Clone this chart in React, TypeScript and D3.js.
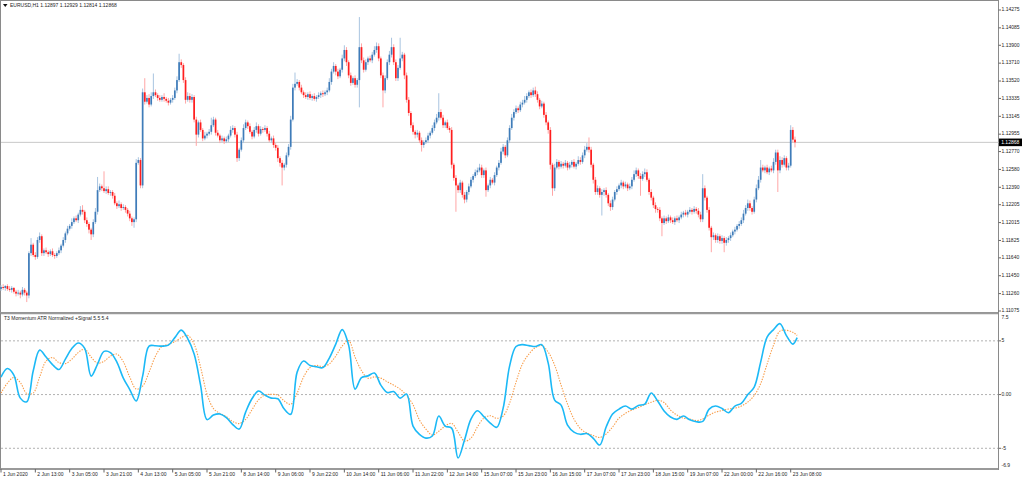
import * as d3 from 'd3';

// EURUSD H1 closes, 1 Jun 2020 onward (open of each bar = previous close)
const firstOpen = 1.1131;
const closes = [
  1.1133, 1.1132, 1.1134, 1.1131, 1.1130, 1.1132, 1.1128, 1.1126, 1.1127, 1.1125,
  1.1130, 1.1127, 1.1124, 1.1169, 1.1178, 1.1167, 1.1165, 1.1183, 1.1187, 1.1169,
  1.1172, 1.1170, 1.1168, 1.1171, 1.1167, 1.1166, 1.1169, 1.1172, 1.1177, 1.1183,
  1.1190, 1.1195, 1.1198, 1.1202, 1.1206, 1.1204, 1.1210, 1.1215, 1.1213, 1.1204,
  1.1200, 1.1194, 1.1189, 1.1202, 1.1213, 1.1236, 1.1240, 1.1238, 1.1235, 1.1237,
  1.1233, 1.1234, 1.1230, 1.1222, 1.1219, 1.1221, 1.1217, 1.1218, 1.1215, 1.1211,
  1.1206, 1.1202, 1.1205, 1.1265, 1.1268, 1.1241, 1.1340, 1.1330, 1.1334, 1.1327,
  1.1336, 1.1340, 1.1337, 1.1334, 1.1332, 1.1335, 1.1333, 1.1331, 1.1329, 1.1332,
  1.1334, 1.1342, 1.1353, 1.1372, 1.1369, 1.1353, 1.1332, 1.1336, 1.1332, 1.1335,
  1.1311, 1.1295, 1.1308, 1.1300, 1.1291, 1.1294, 1.1296, 1.1298, 1.1305, 1.1311,
  1.1297, 1.1294, 1.1289, 1.1291, 1.1288, 1.1290, 1.1294, 1.1300, 1.1302, 1.1295,
  1.1270, 1.1279, 1.1289, 1.1302, 1.1308, 1.1304, 1.1298, 1.1293, 1.1300, 1.1304,
  1.1296, 1.1301, 1.1300, 1.1302, 1.1296, 1.1289, 1.1291, 1.1284, 1.1281, 1.1270,
  1.1265, 1.1260, 1.1263, 1.1273, 1.1282, 1.1311, 1.1345, 1.1349, 1.1351, 1.1345,
  1.1340, 1.1337, 1.1335, 1.1338, 1.1334, 1.1336, 1.1333, 1.1335, 1.1337, 1.1339,
  1.1338, 1.1340, 1.1342, 1.1351, 1.1362, 1.1368, 1.1362, 1.1357, 1.1364, 1.1376,
  1.1385, 1.1372, 1.1358, 1.1350, 1.1355, 1.1348, 1.1353, 1.1388, 1.1374, 1.1364,
  1.1372, 1.1376, 1.1374, 1.1380, 1.1385, 1.1389, 1.1376, 1.1358, 1.1342, 1.1355,
  1.1372, 1.1380, 1.1388, 1.1372, 1.1355, 1.1366, 1.1376, 1.1380, 1.1358, 1.1332,
  1.1318, 1.1305, 1.1298, 1.1295, 1.1297, 1.1289, 1.1284, 1.1287, 1.1289, 1.1294,
  1.1297, 1.1302, 1.1308, 1.1313, 1.1319, 1.1313, 1.1305, 1.1308, 1.1302, 1.1300,
  1.1263, 1.1249, 1.1241, 1.1236, 1.1244, 1.1231, 1.1226, 1.1234, 1.1240, 1.1247,
  1.1251, 1.1255, 1.1257, 1.1260, 1.1252, 1.1257, 1.1236, 1.1241, 1.1247, 1.1244,
  1.1252, 1.1260, 1.1265, 1.1277, 1.1282, 1.1273, 1.1289, 1.1302, 1.1313, 1.1319,
  1.1323, 1.1321, 1.1327, 1.1329, 1.1332, 1.1336, 1.1340, 1.1337, 1.1342, 1.1338,
  1.1332, 1.1325, 1.1328, 1.1316, 1.1308, 1.1300, 1.1263, 1.1238, 1.1260, 1.1266,
  1.1261, 1.1264, 1.1262, 1.1265, 1.1260, 1.1263, 1.1266, 1.1261, 1.1264, 1.1268,
  1.1266, 1.1273, 1.1279, 1.1282, 1.1279, 1.1263, 1.1247, 1.1234, 1.1238, 1.1231,
  1.1234, 1.1236, 1.1231, 1.1222, 1.1218, 1.1226, 1.1234, 1.1237, 1.1241, 1.1244,
  1.1240, 1.1242, 1.1238, 1.1240, 1.1247, 1.1253, 1.1257, 1.1251, 1.1248, 1.1253,
  1.1255, 1.1247, 1.1234, 1.1228, 1.1220, 1.1216, 1.1215, 1.1206, 1.1201, 1.1206,
  1.1203, 1.1207, 1.1204, 1.1202, 1.1206, 1.1204, 1.1207, 1.1210, 1.1212, 1.1210,
  1.1213, 1.1215, 1.1213, 1.1216, 1.1214, 1.1210, 1.1205, 1.1238, 1.1228, 1.1215,
  1.1196, 1.1186, 1.1188, 1.1183, 1.1187, 1.1182, 1.1185, 1.1180, 1.1183, 1.1185,
  1.1188, 1.1192, 1.1194, 1.1198, 1.1200, 1.1204, 1.1211, 1.1217, 1.1222, 1.1217,
  1.1213, 1.1226, 1.1238, 1.1247, 1.1260, 1.1257, 1.1260, 1.1255, 1.1259, 1.1257,
  1.1266, 1.1276, 1.1257, 1.1268, 1.1263, 1.1270, 1.1260, 1.1262, 1.1300, 1.12897,
  1.12868,
];

// upper / lower shadow length above / below the body, in pips
const wickUp = [
  2, 3, 1, 2, 3, 2, 1, 2, 3, 2, 3, 2, 2, 2, 7, 2, 3, 3, 4, 2,
  2, 3, 2, 2, 3, 2, 2, 3, 2, 3, 2, 3, 2, 4, 2, 3, 2, 4, 5, 2,
  3, 2, 2, 3, 4, 14, 3, 2, 18, 3, 3, 2, 2, 3, 2, 4, 2, 3, 2, 2,
  3, 2, 2, 4, 3, 2, 4, 15, 3, 4, 4, 20, 3, 2, 3, 2, 4, 2, 3, 2,
  3, 3, 4, 9, 3, 2, 3, 4, 3, 3, 2, 3, 2, 3, 2, 4, 2, 3, 8, 3,
  2, 3, 2, 3, 2, 3, 2, 4, 3, 2, 3, 2, 3, 4, 3, 2, 3, 2, 3, 4,
  2, 3, 2, 3, 2, 3, 2, 3, 2, 3, 2, 3, 2, 3, 3, 4, 4, 12, 3, 2,
  3, 2, 3, 2, 3, 2, 3, 2, 3, 2, 3, 2, 3, 4, 3, 4, 2, 3, 2, 4,
  5, 3, 2, 3, 2, 3, 2, 32, 4, 3, 3, 2, 3, 3, 4, 4, 3, 2, 3, 3,
  3, 4, 10, 3, 3, 3, 22, 3, 2, 3, 3, 2, 3, 2, 3, 2, 3, 2, 3, 3,
  2, 3, 3, 4, 20, 3, 3, 2, 3, 2, 3, 2, 3, 2, 3, 2, 3, 2, 3, 3,
  2, 3, 3, 4, 3, 2, 3, 2, 3, 2, 3, 2, 3, 4, 3, 2, 3, 3, 4, 3,
  3, 2, 3, 3, 4, 3, 2, 3, 3, 4, 3, 2, 3, 2, 3, 2, 3, 2, 4, 3,
  2, 3, 2, 3, 2, 3, 2, 3, 2, 4, 3, 3, 4, 4, 10, 3, 2, 3, 3, 2,
  3, 2, 3, 2, 3, 3, 2, 3, 2, 3, 2, 3, 2, 3, 3, 4, 3, 2, 3, 3,
  4, 3, 2, 3, 2, 3, 2, 3, 2, 3, 2, 3, 2, 3, 2, 3, 2, 3, 2, 3,
  2, 3, 2, 3, 2, 3, 3, 15, 3, 2, 3, 2, 3, 2, 3, 2, 3, 2, 3, 2,
  3, 2, 3, 2, 3, 3, 4, 3, 4, 3, 2, 3, 4, 4, 8, 3, 2, 3, 2, 3,
  4, 3, 3, 4, 3, 3, 2, 3, 5, 3, 3.2,
];
const wickDown = [
  2, 2, 3, 2, 2, 3, 2, 3, 2, 4, 2, 3, 7, 3, 3, 2, 3, 2, 3, 3,
  3, 2, 3, 2, 2, 3, 2, 2, 3, 2, 3, 2, 2, 3, 2, 2, 3, 2, 3, 3,
  3, 4, 6, 3, 2, 3, 2, 3, 2, 3, 2, 3, 3, 2, 3, 2, 3, 2, 3, 3,
  3, 4, 6, 3, 2, 3, 3, 3, 2, 3, 2, 3, 2, 3, 2, 2, 3, 2, 3, 2,
  3, 2, 3, 2, 3, 3, 4, 2, 3, 3, 3, 12, 3, 2, 3, 2, 3, 2, 3, 2,
  3, 2, 3, 2, 3, 2, 3, 2, 3, 3, 4, 3, 2, 3, 2, 3, 2, 3, 2, 3,
  3, 2, 3, 2, 3, 2, 3, 3, 3, 4, 4, 19, 3, 3, 2, 3, 2, 3, 2, 3,
  2, 3, 2, 3, 2, 3, 2, 3, 2, 3, 3, 2, 3, 2, 3, 2, 4, 3, 2, 3,
  3, 4, 3, 3, 2, 3, 3, 29, 3, 3, 2, 3, 2, 3, 2, 3, 3, 3, 18, 3,
  2, 3, 3, 3, 3, 3, 2, 3, 4, 3, 3, 3, 3, 4, 3, 3, 7, 3, 2, 3,
  3, 2, 3, 2, 3, 2, 3, 3, 2, 3, 4, 3, 28, 3, 3, 3, 4, 3, 3, 2,
  3, 2, 3, 2, 3, 3, 7, 2, 3, 2, 3, 2, 3, 2, 3, 3, 2, 3, 2, 3,
  2, 3, 2, 3, 2, 3, 2, 3, 2, 3, 3, 3, 2, 3, 3, 4, 5, 8, 3, 2,
  3, 2, 3, 2, 3, 2, 3, 2, 3, 2, 3, 2, 3, 2, 3, 3, 4, 3, 3, 3,
  22, 4, 3, 3, 4, 3, 2, 3, 2, 3, 3, 2, 3, 2, 3, 2, 3, 3, 18, 2,
  3, 2, 3, 3, 3, 4, 3, 3, 14, 2, 3, 2, 3, 2, 3, 2, 3, 2, 3, 2,
  3, 2, 3, 2, 3, 3, 3, 3, 3, 3, 3, 16, 3, 3, 3, 3, 3, 10, 3, 3,
  3, 2, 3, 2, 3, 2, 3, 2, 3, 3, 3, 2, 3, 2, 3, 2, 3, 2, 3, 2,
  3, 3, 23, 3, 3, 2, 3, 3, 2, 3, 5.4,
];

// T3 momentum (ATR normalized) and its signal, one reading every T3_STEP bars
const T3_STEP = 3;
const t3Main = [
  1.63, 2.42, 1.81, -0.33, -0.67, 2.19, 4.14, 3.49, 2.79, 2.33,
  3.30, 4.28, 4.80, 4.30, 1.72, 2.84, 4.02, 3.91, 3.02, 1.53,
  0.47, -0.60, 1.72, 4.51, 4.54, 4.51, 4.60, 5.30, 6.00, 5.21,
  3.77, 0.88, -2.33, -1.91, -1.81, -2.14, -2.79, -3.21, -1.63, -0.37,
  0.33, -0.05, -0.33, -0.39, -1.35, -1.84, 2.09, 3.12, 2.70, 2.59,
  2.51, 3.40, 4.70, 6.05, 4.60, 0.51, 1.58, 1.74, 2.00, 0.88,
  0.19, 0.28, -0.33, 0.05, -2.93, -3.70, -4.05, -3.86, -2.00, -2.93,
  -3.12, -5.90, -4.23, -2.28, -1.50, -2.05, -2.65, -3.05, -1.26, 2.65,
  4.47, 4.65, 4.56, 4.47, 4.65, 2.93, -0.51, -0.98, -2.84, -3.49,
  -3.70, -3.63, -4.07, -4.70, -3.02, -1.80, -1.35, -1.07, -1.35, -1.02,
  -0.88, 0.15, -0.60, -1.53, -2.09, -2.31, -2.00, -2.35, -2.53, -2.50,
  -1.35, -1.07, -1.30, -1.69, -1.07, -0.82, 0.00, 0.70, 3.02, 5.35,
  6.05, 6.60, 5.49, 4.70, 5.30,
];
const t3Signal = [
  0.14, 1.07, 1.60, 1.12, 0.09, 0.14, 1.63, 3.12, 3.44, 2.98,
  2.88, 3.30, 3.91, 4.23, 3.49, 2.93, 3.09, 3.58, 3.77, 3.05,
  1.63, 0.51, 0.79, 2.09, 3.58, 4.48, 4.67, 4.93, 5.30, 5.51,
  4.70, 2.56, 0.05, -1.30, -1.75, -2.05, -2.51, -2.70, -2.31, -1.40,
  -0.49, -0.05, 0.02, -0.05, -0.60, -0.90, 0.14, 1.63, 2.51, 2.72,
  2.60, 2.86, 3.58, 4.52, 5.02, 3.49, 2.23, 1.52, 1.65, 1.53,
  1.19, 0.87, 0.51, -0.09, -0.95, -2.37, -3.21, -3.77, -3.41, -2.93,
  -2.68, -3.49, -4.33, -4.05, -3.02, -2.19, -1.97, -2.21, -2.00, -0.79,
  1.16, 2.84, 3.77, 4.37, 4.56, 3.95, 2.74, 0.88, -0.88, -2.28,
  -3.16, -3.58, -3.81, -4.00, -3.67, -3.02, -2.19, -1.75, -1.44, -1.21,
  -0.93, -0.72, -0.53, -0.74, -1.44, -1.91, -2.19, -2.28, -2.42, -2.28,
  -1.91, -1.63, -1.49, -1.35, -1.26, -1.07, -0.70, -0.09, 1.02, 2.84,
  4.60, 5.91, 5.98, 5.81, 5.50,
];
// the last reading sits on the final bar rather than on the 3-bar grid
const T3_LAST_BAR = 371;

const LABEL_STEP = 16;
const timeLabels = [
  '1 Jun 2020', '2 Jun 13:00', '3 Jun 05:00', '3 Jun 21:00', '4 Jun 13:00',
  '5 Jun 05:00', '5 Jun 21:00', '8 Jun 14:00', '9 Jun 06:00', '9 Jun 22:00',
  '10 Jun 14:00', '11 Jun 06:00', '11 Jun 22:00', '12 Jun 14:00', '15 Jun 07:00',
  '15 Jun 23:00', '16 Jun 15:00', '17 Jun 07:00', '17 Jun 23:00', '18 Jun 15:00',
  '19 Jun 07:00', '22 Jun 00:00', '22 Jun 16:00', '23 Jun 08:00',
];

const priceTicks = [
  1.14275, 1.14085, 1.139, 1.1371, 1.1352, 1.13335, 1.13145, 1.12955, 1.1277,
  1.1258, 1.1239, 1.12205, 1.12015, 1.11825, 1.1164, 1.1145, 1.1126, 1.11075,
];
const lastPrice = 1.12868;
const indLevels = [5, 0, -5];
const indLabels = ['7.5', '5', '0.00', '-5', '-6.9'];
const indLabelValues = [7.5, 5, 0, -5, -6.9];

const symbolTitle = 'EURUSD,H1  1.12897 1.12929 1.12814 1.12868';
const indicatorTitle = 'T3 Momentum ATR Normalized +Signal 5.5 5.4';

const W = 1024;
const H = 480;
const RIGHT = 998.5;
const FONT = '"Liberation Sans", Arial, sans-serif';
const TXT = '#1e1e1e';

export default function App() {
  const x = d3.scaleLinear().domain([0, 368]).range([1, 790.7]);
  const yP = d3.scaleLinear().domain([1.11075, 1.14275]).range([311, 10]);
  const yI = d3.scaleLinear().domain([-6.9, 7.5]).range([468.7, 314]);

  const candles = closes.map((c, i) => {
    const o = i === 0 ? firstOpen : closes[i - 1];
    const top = Math.max(o, c);
    const bot = Math.min(o, c);
    return {
      i,
      bull: c >= o,
      top,
      bot,
      high: top + wickUp[i] / 10000,
      low: bot - wickDown[i] / 10000,
    };
  });

  const t3Bar = (k: number, n: number) => (k === n - 1 ? T3_LAST_BAR : k * T3_STEP);
  const line = (vals: number[]) =>
    d3
      .line<number>()
      .x((_, k) => x(t3Bar(k, vals.length)))
      .y((v) => yI(v))
      .curve(d3.curveCatmullRom.alpha(0.5))(vals) ?? '';

  const lastY = yP(lastPrice);

  return (
    <svg
      width={W}
      height={H}
      style={{ position: 'absolute', left: 0, top: 0, background: '#fff' }}
      fontFamily={FONT}
    >
      {/* frame */}
      <rect x={0.5} y={0.5} width={RIGHT - 0.5} height={312} fill="none" stroke="#8a8a8a" />
      <line x1={0} x2={RIGHT} y1={313.2} y2={313.2} stroke="#9a9a9a" strokeWidth={2} />
      <line x1={0} x2={RIGHT + 0.5} y1={469} y2={469} stroke="#9a9a9a" strokeWidth={2} />
      <line x1={RIGHT} x2={RIGHT} y1={0} y2={470} stroke="#8a8a8a" />
      <line x1={0.5} x2={0.5} y1={313} y2={469} stroke="#8a8a8a" />

      {/* last price line */}
      <line x1={1} x2={RIGHT} y1={lastY} y2={lastY} stroke="#c8c8c8" strokeWidth={1} />

      {/* candles */}
      <g>
        {candles.map((d) => (
          <line
            key={'w' + d.i}
            x1={x(d.i)}
            x2={x(d.i)}
            y1={yP(d.high)}
            y2={yP(d.low)}
            stroke={d.bull ? '#a8c4e0' : '#ffa6a6'}
            strokeWidth={1}
          />
        ))}
        {candles.map((d) => (
          <rect
            key={'b' + d.i}
            x={x(d.i) - 0.85}
            y={yP(d.top)}
            width={1.7}
            height={Math.max(0.8, yP(d.bot) - yP(d.top))}
            fill={d.bull ? '#3f7cb9' : '#ff1e1e'}
          />
        ))}
      </g>

      {/* symbol title */}
      <path d="M3,4 L7.5,4 L5.25,7 Z" fill="#111" />
      <text x={10} y={5.5} fontSize={5} fill={TXT} dominantBaseline="middle">
        {symbolTitle}
      </text>

      {/* price axis */}
      {priceTicks.map((p) => (
        <g key={p}>
          <line x1={RIGHT} x2={RIGHT + 2.5} y1={yP(p)} y2={yP(p)} stroke="#666" />
          <text x={1001.5} y={yP(p)} fontSize={5} fill={TXT} dominantBaseline="middle">
            {p.toFixed(5)}
          </text>
        </g>
      ))}
      <rect x={999} y={lastY - 3.8} width={23} height={7.6} fill="#000" />
      <text x={1001.2} y={lastY} fontSize={5} fill="#fff" dominantBaseline="middle">
        {lastPrice.toFixed(5)}
      </text>

      {/* indicator panel */}
      <text x={4} y={318.5} fontSize={5} fill={TXT} dominantBaseline="middle">
        {indicatorTitle}
      </text>
      {indLevels.map((v) => (
        <line
          key={v}
          x1={1}
          x2={RIGHT}
          y1={yI(v)}
          y2={yI(v)}
          stroke="#a8a8a8"
          strokeWidth={0.9}
          strokeDasharray="2,2"
        />
      ))}
      {indLabelValues.map((v, k) => {
        const yy = yI(v);
        const ty = k === 0 ? yy + 3.5 : k === indLabels.length - 1 ? yy - 3.5 : yy;
        return (
          <g key={v}>
            {k > 0 && k < indLabels.length - 1 && (
              <line x1={RIGHT} x2={RIGHT + 2.5} y1={yy} y2={yy} stroke="#666" />
            )}
            <text x={1001.5} y={ty} fontSize={5} fill={TXT} dominantBaseline="middle">
              {indLabels[k]}
            </text>
          </g>
        );
      })}
      <path
        d={line(t3Signal)}
        fill="none"
        stroke="#f89d4a"
        strokeWidth={1.1}
        strokeDasharray="1.4,1.3"
      />
      <path d={line(t3Main)} fill="none" stroke="#1cb9f6" strokeWidth={1.6} />

      {/* time axis */}
      {timeLabels.map((t, k) => {
        const xx = x(k * LABEL_STEP);
        return (
          <g key={t}>
            <line x1={xx} x2={xx} y1={469} y2={472.5} stroke="#666" />
            <text x={xx + 2} y={474.5} fontSize={5} fill={TXT} dominantBaseline="middle">
              {t}
            </text>
          </g>
        );
      })}
    </svg>
  );
}
